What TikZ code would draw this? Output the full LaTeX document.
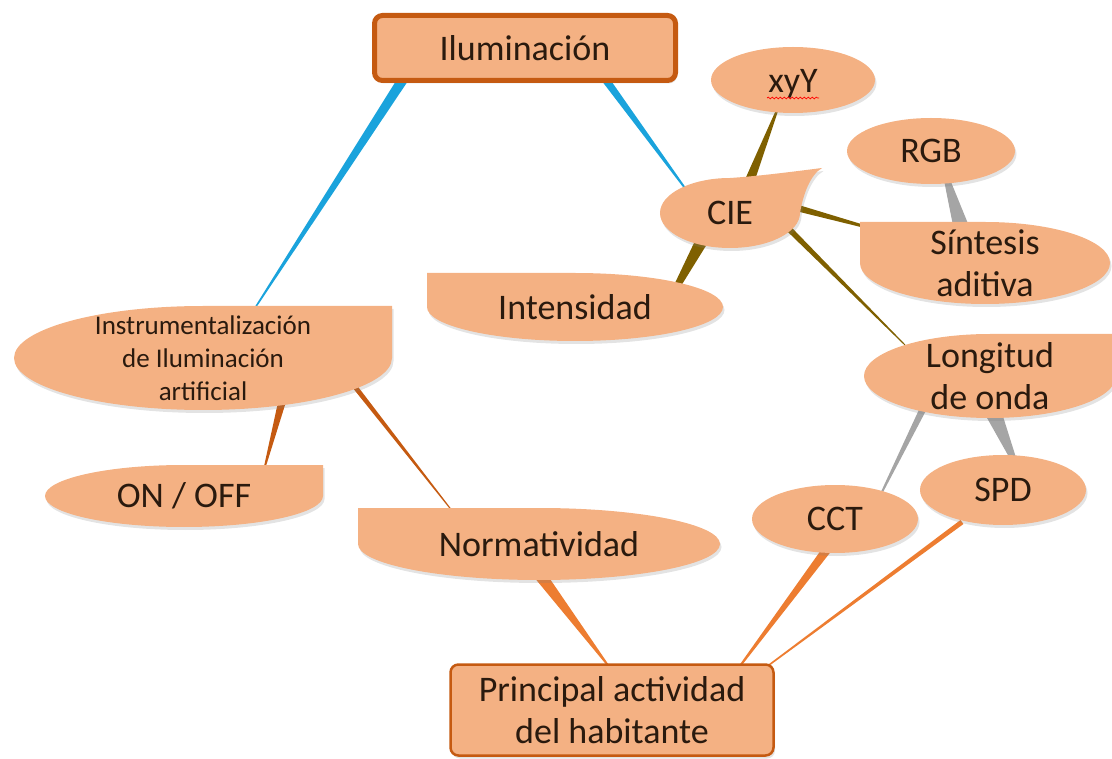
\documentclass[tikz,border=0pt]{standalone}
\usepackage{fontspec}
\setmainfont{Carlito}
\usetikzlibrary{calc,shadows,decorations.pathmorphing}

\pgfdeclarelayer{links}
\pgfdeclarelayer{blobs}
\pgfsetlayers{links,blobs,main}

\definecolor{blobfill}{HTML}{F4B183}
\definecolor{rust}{HTML}{C55A11}
\definecolor{tangerine}{HTML}{ED7D31}
\definecolor{sky}{HTML}{1AA3DC}
\definecolor{olivebr}{HTML}{7F6000}
\definecolor{ash}{HTML}{A5A5A5}
\definecolor{ink}{HTML}{2A1A0E}

\tikzset{
  lbl/.style={text=ink, font=\fontsize{36}{42}\selectfont, align=center, inner sep=0pt},
  blob/.style={fill=blobfill, drop shadow={shadow xshift=1.5pt, shadow yshift=-3pt, opacity=0.22}},
  topic/.style={lbl, rectangle, rounded corners=8pt, fill=blobfill, draw=rust,
    drop shadow={shadow xshift=1.5pt, shadow yshift=-3pt, opacity=0.22}}
}

% tapered branch: colour, start, start width, end, end width
\newcommand\branch[5]{%
  \path #2 coordinate (bS) #4 coordinate (bE);
  \fill[#1] ($(bS)!#3/2!90:(bE)$) -- ($(bS)!#3/2!-90:(bE)$)
         -- ($(bE)!#5/2!90:(bS)$) -- ($(bE)!#5/2!-90:(bS)$) -- cycle;}

% ellipse with a square top-left corner: node, x radius, y radius
\newcommand\cornerTL[3]{%
  \fill[blob] ([yshift=#3]#1.center) arc[start angle=90, end angle=-180, x radius=#2, y radius=#3]
    -- ++(0pt,#3) -- cycle;}
% ellipse with a square top-right corner
\newcommand\cornerTR[3]{%
  \fill[blob] ([yshift=#3]#1.center) arc[start angle=90, end angle=360, x radius=#2, y radius=#3]
    -- ++(0pt,#3) -- cycle;}

\begin{document}
\begin{tikzpicture}[x=1pt, y=1pt]
\useasboundingbox (0,0) rectangle (1112,-759);

% boxed topics
\node[topic, line width=5pt, minimum width=301pt, minimum height=65pt] (ilum) at (525,-48) {Iluminación};
\node[topic, line width=2.5pt, minimum width=323pt, minimum height=91pt] (princ) at (612,-710)
  {Principal actividad\\del habitante};

% labels of the rounded shapes
\node[lbl] (xyy)   at (793,-84)  {xyY};
\node[lbl] (rgb)   at (931,-151) {RGB};
\node[lbl] (cie)   at (730,-213) {CIE};
\node[lbl] (inten) at (575,-307) {Intensidad};
\node[lbl] (sint)  at (985,-263) {Síntesis\\aditiva};
\node[lbl] (long)  at (990,-376) {Longitud\\de onda};
\node[lbl] (spd)   at (1003,-490) {SPD};
\node[lbl] (cct)   at (835,-519) {CCT};
\node[lbl] (norm)  at (539,-544) {Normatividad};
\node[lbl] (onoff) at (184,-496) {ON / OFF};
\node[lbl, font=\fontsize{27}{33}\selectfont] (instr) at (203,-358)
  {Instrumentalización\\de Iluminación\\artificial};

% spell-check squiggle under xyY
\draw[red, line width=0.7pt, decorate, decoration={snake, amplitude=0.9pt, segment length=4pt}]
  ([shift={(-26,-14)}]xyy.center) -- ([shift={(26,-14)}]xyy.center);

% shapes
\begin{pgfonlayer}{blobs}
  \fill[blob] ([yshift=4pt]xyy.center) ellipse[x radius=82pt, y radius=33pt];
  \fill[blob] (rgb.center) ellipse[x radius=84pt, y radius=33pt];
  \fill[blob] (spd.center) ellipse[x radius=83pt, y radius=35pt];
  \fill[blob] (cct.center) ellipse[x radius=83pt, y radius=34pt];
  \cornerTL{inten}{148pt}{34pt}
  \cornerTL{sint}{125pt}{41pt}
  \cornerTL{norm}{181pt}{36pt}
  \cornerTR{onoff}{139pt}{31pt}
  \cornerTR{instr}{189pt}{52pt}
  \cornerTR{long}{126pt}{42pt}
  % teardrop behind CIE
  \fill[blob] ([yshift=35pt]cie.center) arc[start angle=90, end angle=360, x radius=70pt, y radius=35pt]
    .. controls ([shift={(73,18)}]cie.center) and ([shift={(80,38)}]cie.center) .. ([shift={(92,45)}]cie.center)
    .. controls ([shift={(60,41)}]cie.center) and ([shift={(30,37)}]cie.center) .. cycle;
\end{pgfonlayer}

% branches
\begin{pgfonlayer}{links}
  \branch{sky}{([shift={(-116,-22)}]ilum.center)}{10.5pt}{([shift={(52,50)}]instr.center)}{1.5pt}
  \branch{sky}{([shift={(75,-24)}]ilum.center)}{8pt}{([shift={(-40,18)}]cie.center)}{1.5pt}
  \branch{olivebr}{([shift={(18,28)}]cie.center)}{10pt}{([shift={(-15,-24)}]xyy.center)}{2pt}
  \branch{olivebr}{([shift={(-25,-22)}]cie.center)}{13pt}{([shift={(100,17)}]inten.center)}{6pt}
  \branch{olivebr}{([shift={(60,7)}]cie.center)}{7pt}{([shift={(-115,35)}]sint.center)}{2.5pt}
  \branch{olivebr}{([shift={(55,-12)}]cie.center)}{6pt}{([shift={(-85,31)}]long.center)}{1pt}
  \branch{ash}{([shift={(-23,33)}]sint.center)}{16pt}{([shift={(16,-29)}]rgb.center)}{6pt}
  \branch{ash}{([shift={(-65,-29)}]long.center)}{7pt}{([shift={(47,27)}]cct.center)}{2pt}
  \branch{ash}{([shift={(0,-29)}]long.center)}{18pt}{([shift={(10,32)}]spd.center)}{6pt}
  \branch{tangerine}{([shift={(-7,-29)}]cct.center)}{9pt}{([shift={(128,44)}]princ.center)}{2pt}
  \branch{tangerine}{([shift={(-41,-32)}]spd.center)}{5pt}{([shift={(153,42)}]princ.center)}{1.5pt}
  \branch{tangerine}{([shift={(1,-31)}]norm.center)}{12pt}{([shift={(-2,42)}]princ.center)}{1.5pt}
  \branch{rust}{([shift={(149,-25)}]instr.center)}{5pt}{([shift={(-86,32)}]norm.center)}{1pt}
  \branch{rust}{([shift={(80,-40)}]instr.center)}{8pt}{([shift={(80,26)}]onoff.center)}{1.5pt}
\end{pgfonlayer}
\end{tikzpicture}
\end{document}
